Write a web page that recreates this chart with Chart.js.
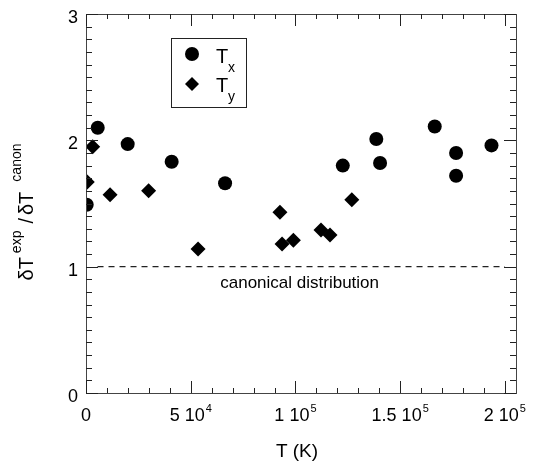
<!DOCTYPE html>
<html>
<head>
<meta charset="utf-8">
<script src="https://cdn.jsdelivr.net/npm/chart.js@4/dist/chart.umd.min.js"></script>
<style>
  html, body { margin: 0; padding: 0; background: #fff; }
  canvas { display: block; }
</style>
</head>
<body>
<canvas id="chart" width="535" height="462"></canvas>
<script>
// values
const txT = [330, 5600, 19900, 40900, 66400, 122600, 138600, 140400, 166500, 176700, 176700, 193600];
const txRatio = [1.49, 2.10, 1.97, 1.83, 1.66, 1.80, 2.01, 1.82, 2.11, 1.90, 1.72, 1.96];
const tyT = [600, 3200, 11500, 29900, 53500, 92600, 93600, 99000, 112200, 116500, 126900];
const tyRatio = [1.67, 1.95, 1.57, 1.60, 1.14, 1.43, 1.18, 1.21, 1.29, 1.25, 1.53];

const canonT = [5500, 200000];
const canonRatio = [1, 1];

const xTickValues = [0, 50000, 100000, 150000, 200000];
const xTickMantissa = ['0', '5 10', '1 10', '1.5 10', '2 10'];
const xTickExponent = ['', '4', '5', '5', '5'];
const yTickValues = [0, 1, 2, 3];
const yTickLabels = ['0', '1', '2', '3'];

const FONT = "'Liberation Sans', Arial, sans-serif";

function toPoints(xs, ys) {
    return xs.map((x, i) => ({ x: x, y: ys[i] }));
}

// frame, inward ticks, labels, legend and titles
const decorPlugin = {
    id: 'decor',
    afterDraw(chart) {
        const ctx = chart.ctx;
        const a = chart.chartArea;
        const xs = chart.scales.x;
        const ys = chart.scales.y;

        ctx.save();
        ctx.strokeStyle = '#444';
        ctx.lineWidth = 1;
        ctx.strokeRect(a.left + 0.5, a.top + 0.5, a.right - a.left, a.bottom - a.top);

        // x ticks, top and bottom
        ctx.strokeStyle = '#222';
        ctx.beginPath();
        for (let v = 0; v <= 200000; v += 10000) {
            const px = Math.round(xs.getPixelForValue(v)) + 0.5;
            const len = v % 50000 === 0 ? 12 : 5;
            ctx.moveTo(px, a.bottom);
            ctx.lineTo(px, a.bottom - len);
            ctx.moveTo(px, a.top);
            ctx.lineTo(px, a.top + len);
        }
        // y ticks, left and right
        for (let i = 0; i <= 30; i++) {
            const py = Math.round(ys.getPixelForValue(i / 10)) + 0.5;
            const len = i % 10 === 0 ? 12 : 6;
            ctx.moveTo(a.left, py);
            ctx.lineTo(a.left + len, py);
            ctx.moveTo(a.right, py);
            ctx.lineTo(a.right - len, py);
        }
        ctx.stroke();

        ctx.fillStyle = '#000';
        ctx.textBaseline = 'alphabetic';

        // y tick labels
        ctx.font = '18px ' + FONT;
        ctx.textAlign = 'right';
        yTickValues.forEach((v, i) => {
            ctx.fillText(yTickLabels[i], a.left - 8, ys.getPixelForValue(v) + 9);
        });

        // x tick labels with exponents
        xTickValues.forEach((v, i) => {
            ctx.font = '18px ' + FONT;
            const w1 = ctx.measureText(xTickMantissa[i]).width;
            ctx.font = '11px ' + FONT;
            const w2 = xTickExponent[i] ? ctx.measureText(xTickExponent[i]).width + 1 : 0;
            const x0 = xs.getPixelForValue(v) - (w1 + w2) / 2;
            ctx.textAlign = 'left';
            ctx.font = '18px ' + FONT;
            ctx.fillText(xTickMantissa[i], x0, a.bottom + 28);
            if (xTickExponent[i]) {
                ctx.font = '11px ' + FONT;
                ctx.fillText(xTickExponent[i], x0 + w1 + 1, a.bottom + 19);
            }
        });

        // x title
        ctx.font = '19px ' + FONT;
        ctx.textAlign = 'center';
        ctx.fillText('T (K)', 297, 457);

        // canonical distribution note
        ctx.font = '17px ' + FONT;
        ctx.fillText('canonical distribution', xs.getPixelForValue(102000), ys.getPixelForValue(0.88) + 6);

        // y title, rotated, with superscripts
        const parts = [
            { t: '\u03B4T', sup: false, gap: 0 },
            { t: 'exp', sup: true, gap: 4 },
            { t: '/', sup: false, gap: 7 },
            { t: '\u03B4T', sup: false, gap: 3 },
            { t: 'canon', sup: true, gap: 10 }
        ];
        let total = 0;
        parts.forEach(p => {
            ctx.font = (p.sup ? '14px ' : '20px ') + FONT;
            p.w = ctx.measureText(p.t).width;
            total += p.gap + p.w;
        });
        ctx.save();
        ctx.translate(25, 212);
        ctx.rotate(-Math.PI / 2);
        ctx.textAlign = 'left';
        let cx = -total / 2;
        parts.forEach(p => {
            cx += p.gap;
            ctx.font = (p.sup ? '14px ' : '20px ') + FONT;
            ctx.fillText(p.t, cx, p.sup ? -4 : 8);
            cx += p.w;
        });
        ctx.restore();

        // legend box
        ctx.strokeStyle = '#222';
        ctx.strokeRect(171.5, 38.5, 75, 69);
        ctx.beginPath();
        ctx.arc(192, 54, 7, 0, Math.PI * 2);
        ctx.fill();
        ctx.beginPath();
        ctx.moveTo(192 - 7, 84);
        ctx.lineTo(192, 84 - 7);
        ctx.lineTo(192 + 7, 84);
        ctx.lineTo(192, 84 + 7);
        ctx.closePath();
        ctx.fill();
        ctx.textAlign = 'left';
        ctx.font = '20px ' + FONT;
        ctx.fillText('T', 216, 63);
        ctx.fillText('T', 216, 92);
        ctx.font = '14px ' + FONT;
        ctx.fillText('x', 228, 72);
        ctx.fillText('y', 228, 101);

        ctx.restore();
    }
};

new Chart(document.getElementById('chart'), {
    type: 'scatter',
    data: {
        datasets: [
            {
                label: 'canonical distribution',
                type: 'line',
                data: toPoints(canonT, canonRatio),
                borderColor: '#222',
                borderWidth: 1.2,
                borderDash: [6, 5],
                pointRadius: 0,
                fill: false,
                order: 3
            },
            {
                label: 'Tx',
                data: toPoints(txT, txRatio),
                pointStyle: 'circle',
                pointRadius: 7,
                pointBackgroundColor: '#000',
                pointBorderWidth: 0,
                order: 1
            },
            {
                label: 'Ty',
                data: toPoints(tyT, tyRatio),
                pointStyle: 'rectRot',
                pointRadius: 7.5,
                pointBackgroundColor: '#000',
                pointBorderWidth: 0,
                order: 2
            }
        ]
    },
    options: {
        responsive: false,
        animation: false,
        layout: { padding: { left: 86, right: 19, top: 14, bottom: 69 } },
        plugins: {
            legend: { display: false },
            tooltip: { enabled: false }
        },
        scales: {
            x: { type: 'linear', min: 0, max: 205300, display: false },
            y: { type: 'linear', min: 0, max: 3, display: false }
        }
    },
    plugins: [decorPlugin]
});
</script>
</body>
</html>
